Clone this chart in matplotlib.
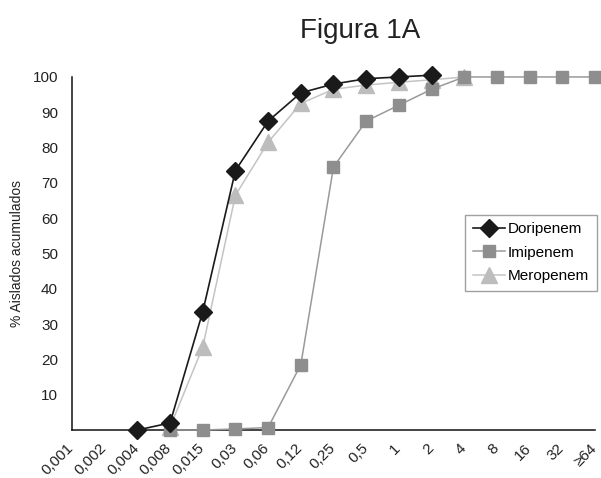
import numpy as np
import matplotlib
matplotlib.use("Agg")
import matplotlib.pyplot as plt
from matplotlib.transforms import ScaledTranslation

plt.rcParams['font.family'] = ['Liberation Sans', 'DejaVu Sans']

# concentraciones (mg/L) y % acumulado de aislados inhibidos
conc = ["0,001", "0,002", "0,004", "0,008", "0,015", "0,03", "0,06", "0,12",
        "0,25", "0,5", "1", "2", "4", "8", "16", "32", "≥64"]
nan = np.nan
doripenem = [nan, nan, 0, 2, 33.5, 73.5, 87.5, 95.5, 98, 99.5, 100, 100.5,
             nan, nan, nan, nan, nan]
imipenem = [nan, nan, nan, 0, 0, 0.3, 0.7, 18.5, 74.5, 87.5, 92, 96.5,
            100, 100, 100, 100, 100]
meropenem = [nan, nan, nan, 0.8, 23.5, 66.5, 81.5, 92.5, 96.5, 97.7, 98.5,
             99.2, 100, nan, nan, nan, nan]

x = np.arange(len(conc))

fig = plt.figure(figsize=(6.01, 4.78), dpi=100)
ax = fig.add_axes([0.1198, 0.1004, 0.8702, 0.7386])

h_mero, = ax.plot(x, meropenem, color="#c4c4c4", lw=1.1, marker="^", ms=11,
                  mfc="#bdbdbd", mec="#bdbdbd", label="Meropenem", zorder=3, clip_on=False)
h_imi, = ax.plot(x, imipenem, color="#9a9a9a", lw=1.1, marker="s", ms=9,
                 mfc="#8e8e8e", mec="#8e8e8e", label="Imipenem", zorder=4, clip_on=False)
h_dori, = ax.plot(x, doripenem, color="#1a1a1a", lw=1.2, marker="D", ms=9,
                  mfc="#1a1a1a", mec="#1a1a1a", label="Doripenem", zorder=5, clip_on=False)

ax.set_xlim(0, len(conc) - 1)
ax.set_ylim(0, 100)
ax.set_yticks(range(10, 101, 10))
ax.set_xticks(x)
ax.set_xticklabels(conc, rotation=45, ha="right", va="top", rotation_mode="anchor")
ax.tick_params(axis="both", length=0, labelsize=11, colors="#222222")
ax.tick_params(axis="y", pad=10)
ax.tick_params(axis="x", pad=8)

# etiquetas del eje x corridas un poco a la izquierda
shift = ScaledTranslation(-4 / 72, 0, fig.dpi_scale_trans)
for lbl in ax.get_xticklabels():
    lbl.set_transform(lbl.get_transform() + shift)

for s in ["top", "right"]:
    ax.spines[s].set_visible(False)
for s in ["left", "bottom"]:
    ax.spines[s].set_color("#111111")
    ax.spines[s].set_linewidth(1.1)

ax.set_ylabel("% Aislados acumulados", fontsize=10, color="#222222", labelpad=6)

leg = ax.legend(handles=[h_dori, h_imi, h_mero], loc="upper left",
                bbox_to_anchor=(0.752, 0.61), fontsize=11, frameon=True,
                fancybox=False, handlelength=2.1, handletextpad=0.2,
                borderpad=0.5, labelspacing=0.62, borderaxespad=0)
leg.get_frame().set_edgecolor("#888888")
leg.get_frame().set_linewidth(1.0)

fig.text(0.6, 0.935, "Figura 1A", fontsize=20, ha="center", va="center", color="#222222")

fig.savefig("out.png", dpi=100)
